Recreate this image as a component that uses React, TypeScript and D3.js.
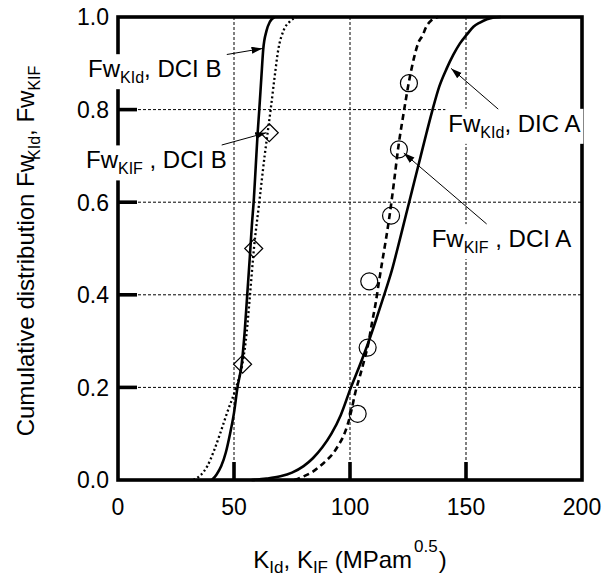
import React, { useEffect, useRef } from 'react';
import * as d3 from 'd3';

const xTicks = [0, 50, 100, 150, 200];
const yTicks = [0, 0.2, 0.4, 0.6, 0.8, 1.0];
const xGrid = [50, 100, 150];
const yGrid = [0.2, 0.4, 0.6, 0.8];

// Fw_KId, DCI B (solid)
const kIdB: [number, number][] = [
  [40.5, 0], [42.5, 0.012], [44.5, 0.03], [46.5, 0.06], [48.3, 0.1], [50, 0.145], [51.5, 0.2],
  [53.3, 0.25], [54.6, 0.32], [55.7, 0.4], [56.8, 0.48], [57.7, 0.55], [58.6, 0.61], [59.4, 0.68],
  [60.2, 0.75], [60.9, 0.8], [61.8, 0.87], [62.6, 0.93], [64, 0.97], [65.5, 0.99], [67.5, 1.0],
];
// Fw_KIF, DCI B (dotted)
const kIfB: [number, number][] = [
  [32.5, 0], [35.5, 0.01], [38.5, 0.03], [41.5, 0.065], [44, 0.1], [47, 0.145], [50.9, 0.2],
  [53.6, 0.25], [55.5, 0.32], [56.9, 0.4], [58.6, 0.5], [60.9, 0.6], [63.2, 0.7], [64.5, 0.75],
  [65.8, 0.8], [67.5, 0.87], [69.1, 0.93], [71.3, 0.97], [74, 0.99], [77, 1.0],
];
// Fw_KId, DIC A (solid)
const kIdA: [number, number][] = [
  [57.6, 0], [64, 0.003], [70, 0.008], [75, 0.016], [80, 0.03], [84, 0.047], [88, 0.07],
  [92, 0.1], [96, 0.14], [100.4, 0.2], [104, 0.245], [107.4, 0.29], [111.5, 0.35],
  [115.4, 0.41], [118, 0.452], [120.5, 0.5], [123, 0.55], [125.5, 0.6],
  [128, 0.65], [130.5, 0.7], [133, 0.75], [135.6, 0.8], [138.5, 0.85], [141.7, 0.889],
  [144.5, 0.918], [147.4, 0.943], [150.5, 0.963], [153.2, 0.979], [156, 0.988], [159, 0.995],
  [162, 0.999], [165, 1.0],
];
// Fw_KIF, DCI A (dashed)
const kIfA: [number, number][] = [
  [76, 0], [80, 0.008], [84, 0.018], [87.1, 0.03], [90, 0.043], [92.8, 0.058], [95, 0.075],
  [97.1, 0.094], [99, 0.12], [100.6, 0.15], [102.2, 0.187], [104.3, 0.225], [106.2, 0.26],
  [107.9, 0.295], [109.5, 0.34], [111, 0.38], [112.6, 0.432], [114, 0.475], [115.5, 0.52],
  [117.2, 0.576], [119, 0.645], [120.8, 0.718], [123.2, 0.795], [125.4, 0.86], [127.5, 0.91],
  [129.5, 0.945], [131.5, 0.962], [132.5, 0.975], [134.5, 0.99], [138, 1.0],
];
// data points
const diamondsB: [number, number][] = [[53.7, 0.25], [58.5, 0.5], [65.2, 0.75]];
const circlesA: [number, number][] = [
  [103.3, 0.143], [107.6, 0.286], [108.3, 0.429], [117.7, 0.571], [121.1, 0.714], [125.4, 0.857],
];

type Part = { t: string; sub?: boolean; sup?: boolean; dx?: number };
const FONT = "'Liberation Sans', Arial, Helvetica, sans-serif";

function rich(sel: any, parts: Part[], base: number, small: number, subShift = 6, supShift = -13) {
  let cur = 0;
  parts.forEach((p) => {
    const target = p.sub ? subShift : p.sup ? supShift : 0;
    sel
      .append('tspan')
      .attr('dy', target - cur)
      .attr('dx', p.dx || 0)
      .attr('font-size', p.sub || p.sup ? small : base)
      .text(p.t);
    cur = target;
  });
}

export default function App() {
  const ref = useRef<SVGSVGElement>(null);
  useEffect(() => {
    const svg = d3.select(ref.current);
    svg.selectAll('*').remove();
    const x = d3.scaleLinear().domain([0, 200]).range([118, 582]);
    const y = d3.scaleLinear().domain([0, 1]).range([480, 17]);
    const [x0, x1] = x.range();
    const [y0, y1] = y.range();

    svg.append('rect').attr('width', 603).attr('height', 579).attr('fill', '#fff');

    // grid
    const grid = svg.append('g').attr('stroke', '#000').attr('stroke-width', 1).attr('stroke-dasharray', '3,2');
    grid.selectAll('.gx').data(xGrid).enter().append('line')
      .attr('x1', (d) => x(d)).attr('x2', (d) => x(d)).attr('y1', y1).attr('y2', y0);
    grid.selectAll('.gy').data(yGrid).enter().append('line')
      .attr('y1', (d) => y(d)).attr('y2', (d) => y(d)).attr('x1', x0).attr('x2', x1);

    // frame and ticks
    const ax = svg.append('g').attr('stroke', '#000').attr('stroke-width', 3.6).attr('fill', 'none');
    ax.append('rect').attr('x', x0).attr('y', y1).attr('width', x1 - x0).attr('height', y0 - y1);
    ax.selectAll('.tx').data(xTicks.slice(1, -1)).enter().append('line')
      .attr('x1', (d) => x(d)).attr('x2', (d) => x(d)).attr('y1', y0).attr('y2', y0 - 18);
    ax.selectAll('.ty').data(yTicks.slice(1, -1)).enter().append('line')
      .attr('y1', (d) => y(d)).attr('y2', (d) => y(d)).attr('x1', x0).attr('x2', x0 + 19);

    // tick labels
    const tl = svg.append('g').attr('font-family', FONT).attr('font-size', 23).attr('fill', '#000');
    tl.selectAll('.lx').data(xTicks).enter().append('text')
      .attr('x', (d) => x(d)).attr('y', 515).attr('text-anchor', 'middle').text((d) => String(d));
    tl.selectAll('.ly').data(yTicks).enter().append('text')
      .attr('x', x0 - 9).attr('y', (d) => y(d) + 8.3).attr('text-anchor', 'end').text((d) => d.toFixed(1));

    // axis titles
    const xt = svg.append('text').attr('font-family', FONT).attr('x', 350).attr('y', 568)
      .attr('text-anchor', 'middle').style('white-space', 'pre');
    rich(xt, [
      { t: 'K' }, { t: 'Id', sub: true }, { t: ', K' }, { t: 'IF', sub: true }, { t: ' (MPam' },
      { t: '0.5', sup: true, dx: 2 }, { t: ')', dx: 1 },
    ], 24, 17, 5, -16);
    const yt = svg.append('text').attr('font-family', FONT)
      .attr('transform', 'translate(33.5,251) rotate(-90)').attr('text-anchor', 'middle').style('white-space', 'pre');
    rich(yt, [
      { t: 'Cumulative distribution Fw' }, { t: 'KId', sub: true, dx: -5 }, { t: ', Fw' }, { t: 'KIF', sub: true },
    ], 24, 16);

    const bgLayer = svg.append('g');

    // curves
    const line = d3.line<[number, number]>().x((d) => x(d[0])).y((d) => y(d[1])).curve(d3.curveMonotoneX);
    const curves = svg.append('g').attr('fill', 'none').attr('stroke', '#000');
    curves.append('path').attr('d', line(kIdB)).attr('stroke-width', 2.6);
    curves.append('path').attr('d', line(kIdA)).attr('stroke-width', 2.6);
    curves.append('path').attr('d', line(kIfA)).attr('stroke-width', 2.6).attr('stroke-dasharray', '6,4');

    // diamonds
    const dr = 9;
    svg.append('g').selectAll('path').data(diamondsB).enter().append('path')
      .attr('d', (d) => {
        const cx = x(d[0]), cy = y(d[1]);
        return `M${cx},${cy - dr}L${cx + dr},${cy}L${cx},${cy + dr}L${cx - dr},${cy}Z`;
      })
      .attr('fill', '#fff').attr('stroke', '#000').attr('stroke-width', 1.2);
    curves.raise();
    svg.append('path').attr('d', line(kIfB)).attr('fill', 'none').attr('stroke', '#000')
      .attr('stroke-width', 2.3).attr('stroke-dasharray', '2,2.6');

    // circles
    svg.append('g').selectAll('circle').data(circlesA).enter().append('circle')
      .attr('cx', (d) => x(d[0])).attr('cy', (d) => y(d[1])).attr('r', 8.5)
      .attr('fill', 'none').attr('stroke', '#000').attr('stroke-width', 1.2);

    // arrows
    const defs = svg.append('defs');
    defs.append('marker').attr('id', 'ah').attr('markerUnits', 'userSpaceOnUse')
      .attr('markerWidth', 12).attr('markerHeight', 8).attr('refX', 11).attr('refY', 3.5).attr('orient', 'auto')
      .append('path').attr('d', 'M0,0L11,3.5L0,7Z').attr('fill', '#000');

    const labels: { at: [number, number]; from: [number, number]; to: [number, number]; parts: Part[] }[] = [
      { at: [-12.9, 0.87], from: [46.9, 0.919], to: [62.3, 0.932],
        parts: [{ t: 'Fw' }, { t: 'KId', sub: true }, { t: ', DCI B' }] },
      { at: [-13.8, 0.673], from: [44.7, 0.7235], to: [63.9, 0.75],
        parts: [{ t: 'Fw' }, { t: 'KIF', sub: true }, { t: ' , DCI B' }] },
      { at: [142.4, 0.752], from: [163.9, 0.801], to: [143.6, 0.889],
        parts: [{ t: 'Fw' }, { t: 'KId', sub: true }, { t: ', DIC A' }] },
      { at: [135.2, 0.503], from: [158.9, 0.553], to: [123.2, 0.706],
        parts: [{ t: 'Fw' }, { t: 'KIF', sub: true }, { t: ' , DCI A' }] },
    ];
    labels.forEach((l) => {
      svg.append('line').attr('x1', x(l.from[0])).attr('y1', y(l.from[1]))
        .attr('x2', x(l.to[0])).attr('y2', y(l.to[1]))
        .attr('stroke', '#000').attr('stroke-width', 1).attr('marker-end', 'url(#ah)');
      const bx = x(l.at[0]), by = y(l.at[1]);
      const t = svg.append('text').attr('font-family', FONT).attr('x', bx).attr('y', by).style('white-space', 'pre');
      rich(t, l.parts, 24, 16);
      const node = t.node() as SVGTextElement;
      const bb = node.getBBox();
      bgLayer.append('rect').attr('x', bb.x - 3).attr('y', by - 23).attr('width', bb.width + 6).attr('height', 35)
        .attr('fill', '#fff');
    });
  }, []);
  return <svg ref={ref} width={603} height={579} style={{ position: 'absolute', left: 0, top: 0 }} />;
}
